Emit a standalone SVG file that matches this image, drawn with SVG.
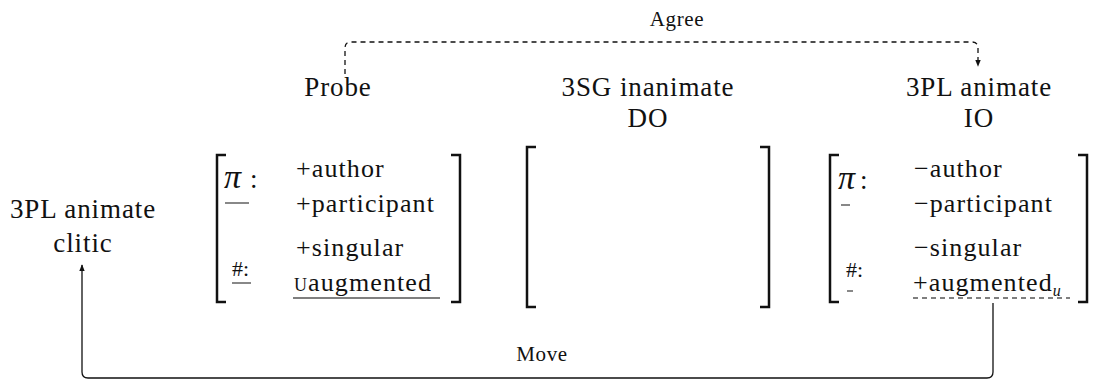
<svg xmlns="http://www.w3.org/2000/svg" width="1097" height="383" viewBox="0 0 1097 383">
<style>
text{font-family:"Liberation Serif","Times New Roman",serif;fill:#111;}
.t{font-size:27px;letter-spacing:0.9px;}
.s{font-size:21px;letter-spacing:0.6px;}
.f{font-size:26px;letter-spacing:1.1px;}
.m{font-size:22px;}
.pi{font-size:34px;font-style:italic;}
.br{fill:none;stroke:#111;stroke-width:2.5;}
.ul{stroke:#555;stroke-width:1.4;}
.dl{stroke:#555;stroke-width:1.4;stroke-dasharray:5,4;}
.conn{fill:none;stroke:#111;stroke-width:1.3;}
</style>
<defs>
<marker id="ah" viewBox="0 0 10 10" refX="9" refY="5" markerWidth="7" markerHeight="7" markerUnits="userSpaceOnUse" orient="auto">
<path d="M0,1 L10,5 L0,9 Z" fill="#111"/>
</marker>
</defs>
<rect width="1097" height="383" fill="#fff"/>
<g id="connectors">
<path class="conn" d="M345,74 V48 Q345,42 351,42 H972 Q978,42 978,48 V66" stroke-dasharray="5,4" marker-end="url(#ah)"/>
<text class="s" x="677" y="26" text-anchor="middle">Agree</text>
<path class="conn" d="M993,303 V372 Q993,378 987,378 H88 Q82,378 82,372 V265" marker-end="url(#ah)"/>
<text class="s" x="542" y="361" text-anchor="middle">Move</text>
</g>
<g id="probe">
<text class="t" x="338" y="96" text-anchor="middle">Probe</text>
</g>
<g id="do">
<text class="t" x="648" y="96" text-anchor="middle">3SG inanimate</text>
<text class="t" x="648" y="127" text-anchor="middle">DO</text>
</g>
<g id="io">
<text class="t" x="979" y="96" text-anchor="middle">3PL animate</text>
<text class="t" x="979" y="127" text-anchor="middle">IO</text>
</g>
<g id="clitic">
<text class="t" x="83" y="218" text-anchor="middle">3PL animate</text>
<text class="t" x="83" y="252" text-anchor="middle">clitic</text>
</g>
<g id="probe-features">
<path class="br" d="M226,155 H217 V302 H226"/>
<path class="br" d="M451,155 H460 V302 H451"/>
<text class="pi" x="224" y="188">π</text>
<text class="t" x="250" y="188">:</text>
<line class="ul" x1="225" y1="203" x2="249" y2="203"/>
<text class="m" x="232" y="276">#:</text>
<line class="ul" x1="232" y1="283" x2="251" y2="283"/>
<text class="f" x="296" y="177">+author</text>
<text class="f" x="296" y="212">+participant</text>
<text class="f" x="296" y="256">+singular</text>
<text class="f" x="294" y="291"><tspan style="font-variant:small-caps">u</tspan>augmented</text>
<line class="ul" x1="293" y1="298" x2="440" y2="298"/>
</g>
<g id="do-features">
<path class="br" d="M536,147 H527 V307 H536"/>
<path class="br" d="M760,147 H769 V307 H760"/>
</g>
<g id="io-features">
<path class="br" d="M839,155 H830 V302 H839"/>
<path class="br" d="M1078,155 H1087 V302 H1078"/>
<text class="pi" x="838" y="189">π</text>
<text class="t" x="860" y="189">:</text>
<line class="ul" x1="841" y1="205" x2="850" y2="205"/>
<text class="m" x="846" y="277">#:</text>
<line class="ul" x1="847" y1="291" x2="853" y2="291"/>
<text class="f" x="914" y="177">−author</text>
<text class="f" x="914" y="212">−participant</text>
<text class="f" x="914" y="256">−singular</text>
<text class="f" x="913" y="291">+augmented<tspan font-size="16" font-style="italic" dy="5">u</tspan></text>
<line class="dl" x1="913" y1="298" x2="1070" y2="298"/>
</g>
</svg>
